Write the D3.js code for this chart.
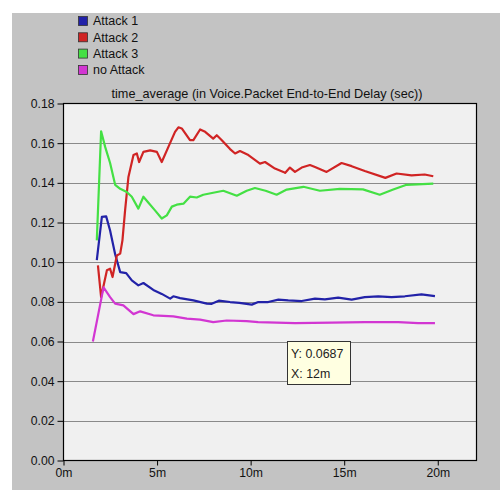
<!DOCTYPE html>
<html><head><meta charset="utf-8">
<script src="https://cdn.jsdelivr.net/npm/d3@7/dist/d3.min.js"></script>
<style>html,body{margin:0;padding:0;background:#fff;}svg{display:block;}</style>
</head><body>
<script>
const titleText = "time_average (in Voice.Packet End-to-End Delay (sec))";
const seriesNames = ["Attack 1", "Attack 2", "Attack 3", "no Attack"];
const seriesColors = ["#2222a8", "#d02424", "#44e044", "#d236d2"];
const yTicks = [0, 0.02, 0.04, 0.06, 0.08, 0.10, 0.12, 0.14, 0.16, 0.18];
const xTicks = [0, 5, 10, 15, 20];
const xTickLabels = ["0m", "5m", "10m", "15m", "20m"];
const tooltipLines = ["Y: 0.0687", "X: 12m"];

const attack1 = [[1.78,0.101],[2.05,0.1228],[2.28,0.1231],[2.49,0.116],[2.76,0.104],[3.03,0.095],[3.35,0.0945],[3.65,0.0908],[4.0,0.0883],[4.27,0.0895],[4.8,0.086],[5.25,0.084],[5.7,0.0816],[5.87,0.0828],[6.23,0.0819],[6.94,0.0807],[7.66,0.0791],[7.92,0.079],[8.3,0.0806],[8.9,0.0799],[9.4,0.0795],[10.06,0.0786],[10.41,0.0799],[10.94,0.0799],[11.48,0.0811],[12.01,0.0807],[12.73,0.0804],[13.44,0.0816],[13.97,0.0812],[14.68,0.0821],[15.4,0.0811],[16.1,0.0824],[16.82,0.0828],[17.53,0.0824],[18.24,0.0828],[19.13,0.0838],[19.85,0.0829]];
const attack2 = [[1.84,0.0984],[2.01,0.0824],[2.32,0.0959],[2.49,0.0967],[2.62,0.0925],[2.85,0.1034],[3.03,0.1043],[3.15,0.111],[3.29,0.126],[3.47,0.143],[3.74,0.154],[3.92,0.1548],[4.04,0.1505],[4.27,0.1556],[4.63,0.1564],[4.99,0.1556],[5.25,0.1505],[5.6,0.158],[5.96,0.1657],[6.14,0.168],[6.32,0.1674],[6.76,0.1615],[6.94,0.1615],[7.3,0.1669],[7.57,0.1657],[8.0,0.1623],[8.19,0.164],[8.46,0.1615],[8.9,0.157],[9.17,0.1548],[9.43,0.156],[9.88,0.154],[10.5,0.1497],[10.77,0.1505],[11.3,0.1472],[11.75,0.1455],[11.84,0.145],[12.1,0.1477],[12.37,0.1455],[12.73,0.1477],[13.17,0.149],[13.44,0.148],[14.06,0.1455],[14.86,0.150],[15.4,0.1484],[16.1,0.146],[17.2,0.1425],[17.8,0.1447],[18.6,0.1438],[19.3,0.1442],[19.76,0.1433]];
const attack3 = [[1.78,0.111],[2.01,0.166],[2.23,0.158],[2.49,0.150],[2.76,0.139],[3.03,0.137],[3.38,0.1354],[3.65,0.133],[4.0,0.127],[4.27,0.133],[4.54,0.130],[4.9,0.126],[5.25,0.122],[5.52,0.1236],[5.79,0.128],[6.05,0.129],[6.41,0.1295],[6.76,0.133],[7.12,0.1326],[7.47,0.134],[8.0,0.135],[8.54,0.136],[9.26,0.1335],[9.79,0.136],[10.23,0.1374],[10.8,0.136],[11.39,0.134],[11.93,0.1366],[12.82,0.138],[13.7,0.136],[14.77,0.137],[16.0,0.1367],[16.9,0.134],[17.62,0.1366],[18.33,0.139],[19.76,0.1396]];
const noAttack = [[1.57,0.060],[2.14,0.0873],[2.49,0.0824],[2.76,0.0791],[3.2,0.0782],[3.74,0.0738],[4.1,0.0752],[4.8,0.0732],[5.34,0.0729],[5.87,0.0727],[6.59,0.0715],[7.3,0.071],[8.0,0.0698],[8.72,0.0706],[9.79,0.0703],[10.4,0.0698],[11.4,0.0695],[12.37,0.0693],[14.33,0.0695],[16.1,0.0698],[17.9,0.0698],[18.95,0.0693],[19.85,0.0693]];
const seriesData = [attack1, attack2, attack3, noAttack];

const W = 500, H = 497;
const font = "'Liberation Sans', Arial, sans-serif";
const svg = d3.select("body").append("svg").attr("width", W).attr("height", H);

// outer panel
svg.append("rect").attr("x", 12).attr("y", 13).attr("width", W - 12).attr("height", 477).attr("fill", "#c3c3c3");

const plot = {l: 63.5, t: 103.5, r: 476.5, b: 460.5};
const x = d3.scaleLinear().domain([0, 22.07]).range([plot.l, plot.r]);
const y = d3.scaleLinear().domain([0, 0.18]).range([plot.b, plot.t]);

svg.append("rect").attr("x", plot.l).attr("y", plot.t).attr("width", plot.r - plot.l).attr("height", plot.b - plot.t).attr("fill", "#f0f0f0");

// gridlines
svg.append("g").selectAll("line").data(yTicks.filter(d => d > 0 && d < 0.18)).join("line")
  .attr("x1", plot.l).attr("x2", plot.r)
  .attr("y1", d => Math.round(y(d)) + 0.5).attr("y2", d => Math.round(y(d)) + 0.5)
  .attr("stroke", "#8a8a8a").attr("stroke-width", 1);

// series lines
const line = d3.line().x(d => x(d[0])).y(d => y(d[1]));
seriesData.forEach((data, i) => {
  svg.append("path").datum(data).attr("d", line).attr("fill", "none")
    .attr("stroke", seriesColors[i]).attr("stroke-width", 2.2).attr("stroke-linejoin", "round");
});

// frame
svg.append("rect").attr("x", plot.l).attr("y", plot.t).attr("width", plot.r - plot.l).attr("height", plot.b - plot.t)
  .attr("fill", "none").attr("stroke", "#000").attr("stroke-width", 1.2);

// axes
const yAxis = d3.axisLeft(y).tickValues(yTicks).tickFormat(d3.format(".2f")).tickSize(6).tickPadding(3);
const gy = svg.append("g").attr("transform", `translate(${plot.l},0)`).call(yAxis);
const xAxis = d3.axisBottom(x).tickValues(xTicks).tickFormat((d, i) => xTickLabels[i]).tickSize(5).tickPadding(3);
const gx = svg.append("g").attr("transform", `translate(0,${plot.b})`).call(xAxis);
[gy, gx].forEach(g => {
  g.select(".domain").remove();
  g.selectAll("line").attr("stroke", "#000");
  g.selectAll("text").attr("font-family", font).attr("font-size", "12.2px").attr("fill", "#111");
});

// title
svg.append("text").attr("x", 267).attr("y", 98).attr("text-anchor", "middle")
  .attr("font-family", font).attr("font-size", "12.7px").attr("fill", "#111").text(titleText);

// legend
const leg = svg.append("g");
seriesNames.forEach((name, i) => {
  const cy = 21 + i * 16.3;
  leg.append("rect").attr("x", 78.5).attr("y", cy - 4.5).attr("width", 9).attr("height", 9)
    .attr("fill", seriesColors[i]).attr("stroke", "#333").attr("stroke-width", 0.8);
  leg.append("text").attr("x", 93).attr("y", cy + 4.3).attr("font-family", font).attr("font-size", "12.5px")
    .attr("fill", "#111").text(name);
});

// tooltip
svg.append("rect").attr("x", 287.5).attr("y", 341.5).attr("width", 63).attr("height", 43)
  .attr("fill", "#ffffe1").attr("stroke", "#333").attr("stroke-width", 1);
tooltipLines.forEach((t, i) => {
  svg.append("text").attr("x", 291).attr("y", 358 + i * 19.5).attr("font-family", font)
    .attr("font-size", "12.4px").attr("fill", "#222").text(t);
});
</script>
</body></html>
